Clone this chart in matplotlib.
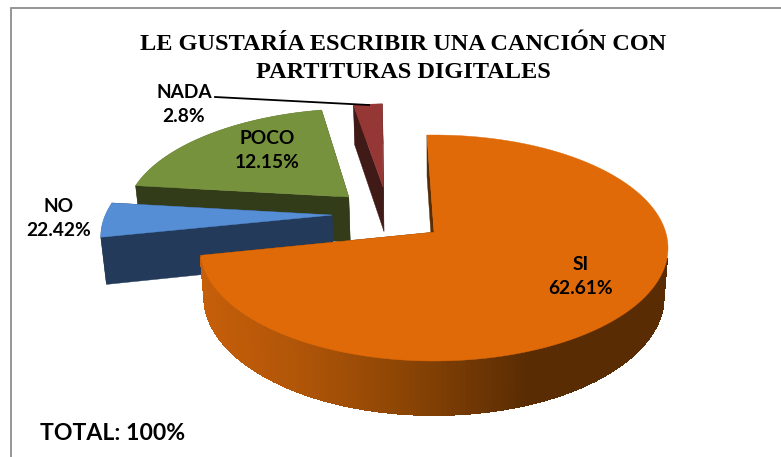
# -*- coding: utf-8 -*-
# pastel 3D separado: el dibujo del original no va a escala de sus etiquetas
import numpy as np
import matplotlib
matplotlib.use('Agg')
import matplotlib.pyplot as plt
from matplotlib.collections import PolyCollection
from matplotlib.patches import Polygon

title = 'LE GUSTARÍA ESCRIBIR UNA CANCIÓN CON\nPARTITURAS DIGITALES'
total_text = 'TOTAL: 100%'

categories = ['SI', 'NO', 'POCO', 'NADA']
label_values = [62.61, 22.42, 12.15, 2.8]
# tamaño que tiene cada sector en el dibujo (%)
slice_shares = [72.3, 5.1, 20.1, 2.5]

# estilo
top_colors = ['#E06A08', '#558ED5', '#76923C', '#953735']
wall_colors = ['#5A2C03', '#243A5A', '#333C18', '#3F1A16']
offsets = [(0, 0), (-0.45, 0.158), (-0.385, 0.332), (-0.233, 0.433)]
radii = [1.0, 1.0, 0.99, 0.95]
label_pos = [(581, 276.5), (59, 218.5), (267, 150.5), (184, 104.5)]
start_angle = -2.0
draw_order = [3, 2, 1, 0]

# elipse de la cara superior, en pixeles de la figura
cx, cy, a, b = 434, 248, 234, 113
c = 0.14


def project(x, y):
    # perspectiva: disco unidad a la elipse, el centro queda por encima
    d = 1 + c * y
    u = x * np.sqrt(1 - c * c) / d
    v = (y + c) / d
    return cx + a * u, cy - b * v


def drop(px, py):
    # la cara inferior es algo mas estrecha y mas gruesa delante
    t = 40 + 14 * (py - 105) / 257
    return cx + (px - cx) * 0.983, py + t


def side_color(px):
    stops_x = [200, 300, 400, 530, 670]
    stops_rgb = np.array([[198, 95, 10], [176, 85, 8], [142, 70, 5], [90, 44, 3], [90, 44, 3]]) / 255
    return [np.interp(px, stops_x, stops_rgb[:, i]) for i in range(3)]


fig = plt.figure(figsize=(7.81, 4.57), dpi=100)
ax = fig.add_axes([0, 0, 1, 1])
ax.set_xlim(0, 781)
ax.set_ylim(457, 0)
ax.axis('off')

# marco
ax.plot([11, 11, 781], [457, 7.5, 7.5], color='#8E8E8E', lw=1.3, zorder=1, solid_joinstyle='miter')

edges = np.cumsum([0] + slice_shares) * 3.6 + start_angle

z = 2
for i in draw_order:
    th = np.radians(np.linspace(edges[i], edges[i + 1], 240))
    r = radii[i]
    ox, oy = offsets[i]
    px, py = project(ox + r * np.sin(th), oy + r * np.cos(th))
    ax0, ay0 = project(ox, oy)
    bx, by = drop(px, py)
    abx, aby = drop(ax0, ay0)

    # paredes rectas
    for (x1, y1, x2, y2) in [(px[0], py[0], bx[0], by[0]), (px[-1], py[-1], bx[-1], by[-1])]:
        ax.add_patch(Polygon([(ax0, ay0), (x1, y1), (x2, y2), (abx, aby)], closed=True,
                             fc=wall_colors[i], ec=wall_colors[i], lw=0.3, zorder=z))
    z += 1

    # pared curva, en tiras para el degradado del sector grande
    quads = [[(px[k], py[k]), (px[k + 1], py[k + 1]), (bx[k + 1], by[k + 1]), (bx[k], by[k])]
             for k in range(len(px) - 1)]
    if i == 0:
        # solo la parte de delante, la de atras no se ve
        quads = [q for q in quads if q[0][1] >= 258]
        cols = [side_color(q[0][0]) for q in quads]
        ax.add_collection(PolyCollection(quads, facecolors=cols, edgecolors=cols, linewidths=0.8,
                                         antialiaseds=False, zorder=z))
    else:
        ax.add_collection(PolyCollection(quads, facecolors=wall_colors[i], edgecolors='none', zorder=z))
    z += 1

    # cara superior
    ax.add_patch(Polygon(np.r_[[(ax0, ay0)], np.c_[px, py]], closed=True,
                         fc=top_colors[i], ec=top_colors[i], lw=0.3, zorder=z))
    z += 1

# linea guia de NADA
ax.plot([215, 369], [97, 105], color='black', lw=1.3, zorder=z)

for name, value, (lx, ly) in zip(categories, label_values, label_pos):
    ax.text(lx, ly, f'{name}\n{value}%', ha='center', va='center', family='Lato',
            fontweight='bold', fontsize=13.8, linespacing=1.55, color='black', zorder=z + 1)

ax.text(403, 58.5, title, ha='center', va='center', family='Liberation Serif', fontweight='bold',
        fontsize=17.5, linespacing=1.42, color='black', zorder=z + 1)
ax.text(40, 433, total_text, ha='left', va='center', family='Lato', fontweight='bold',
        fontsize=16.6, color='black', zorder=z + 1)

fig.savefig('out.png', dpi=100)
